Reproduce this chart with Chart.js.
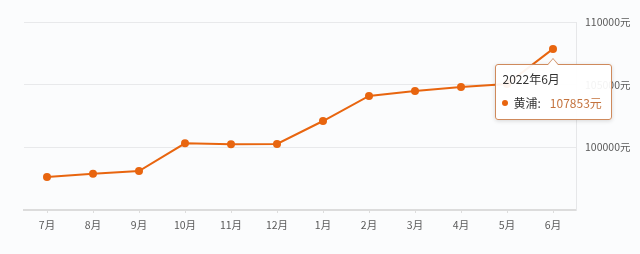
<!DOCTYPE html>
<html>
<head>
<meta charset="utf-8">
<script src="https://cdn.jsdelivr.net/npm/chart.js@4"></script>
<style>
  html, body { margin: 0; padding: 0; background: #fbfcfd; }
  #wrap { position: relative; width: 640px; height: 254px; }
  #tip {
    position: absolute; display: none; box-sizing: border-box;
    width: 117px; height: 56px; background: rgba(255,255,255,0.93);
    border: 1px solid #cf8a5c; border-radius: 3px;
    box-shadow: 0 1px 4px rgba(0,0,0,0.15);
    font-family: "Noto Sans CJK SC", "Noto Sans", sans-serif; font-size: 12px; color: #333;
  }
  #tip .caret {
    position: absolute; top: -7px; left: 50%; margin-left: -6px; width: 0; height: 0;
    border-left: 6px solid transparent; border-right: 6px solid transparent;
    border-bottom: 7px solid #cf8a5c;
  }
  #tip .caret:after {
    content: ""; position: absolute; top: 1px; left: -5px; width: 0; height: 0;
    border-left: 5px solid transparent; border-right: 5px solid transparent;
    border-bottom: 6px solid #fff;
  }
  #tip .t { position: absolute; left: 7px; top: 6px; line-height: 16px; }
  #tip .b { position: absolute; left: 6px; top: 30px; line-height: 16px; white-space: nowrap; }
  #tip .dot { display: inline-block; width: 6px; height: 6px; border-radius: 3px; background: #e8650f; margin-right: 6px; vertical-align: 2px; }
  #tip .v { color: #c4733e; margin-left: 9px; }
</style>
</head>
<body>
<div id="wrap">
  <canvas id="graphCanvas" width="640" height="254"></canvas>
  <div id="tip"><div class="caret"></div><div class="t"></div><div class="b"></div></div>
</div>
<script>
var months = ['7月', '8月', '9月', '10月', '11月', '12月', '1月', '2月', '3月', '4月', '5月', '6月'];
var fullMonths = ['2021年7月', '2021年8月', '2021年9月', '2021年10月', '2021年11月', '2021年12月',
                  '2022年1月', '2022年2月', '2022年3月', '2022年4月', '2022年5月', '2022年6月'];
var prices = [97630, 97900, 98110, 100320, 100240, 100270, 102100, 104100, 104500, 104810, 105050, 107853];
var seriesName = '黄浦';
var yTicks = [95000, 100000, 105000, 110000];

var lineColor = '#e8650f';
var labelFont = { family: '"Noto Sans CJK SC", "Noto Sans", sans-serif', size: 10.5 };

function showTip(context) {
  var model = context.tooltip;
  var tip = document.getElementById('tip');
  if (model.opacity === 0 || !model.dataPoints || !model.dataPoints.length) {
    tip.style.display = 'none';
    return;
  }
  var dp = model.dataPoints[0];
  tip.querySelector('.t').textContent = fullMonths[dp.dataIndex];
  tip.querySelector('.b').innerHTML = '<span class="dot"></span>' + seriesName + ':<span class="v">' + prices[dp.dataIndex] + '元</span>';
  tip.style.display = 'block';
  tip.style.left = (model.caretX - 117 / 2) + 'px';
  tip.style.top = (model.caretY + 15) + 'px';
}

var bgPlugin = {
  id: 'bg',
  beforeDraw: function(chart) {
    var c = chart.ctx;
    c.save();
    c.fillStyle = '#fbfcfd';
    c.fillRect(0, 0, chart.width, chart.height);
    c.restore();
  }
};

var canvas = document.getElementById('graphCanvas').getContext('2d');

var chart = new Chart(canvas, {
  type: 'line',
  data: {
    labels: months,
    datasets: [{
      label: seriesName,
      data: prices,
      borderColor: lineColor,
      backgroundColor: lineColor,
      borderWidth: 2,
      pointRadius: 4,
      pointHoverRadius: 4,
      pointBackgroundColor: lineColor,
      pointBorderWidth: 0,
      tension: 0
    }]
  },
  options: {
    responsive: false,
    animation: false,
    events: [],
    layout: { padding: { left: 24, top: 22, right: 0, bottom: 0 } },
    plugins: {
      legend: { display: false },
      tooltip: { enabled: false, external: showTip }
    },
    scales: {
      x: {
        offset: true,
        grid: { drawOnChartArea: false, drawTicks: true, tickLength: 3, color: '#dddddd' },
        border: { display: true, color: '#dcdcdc', width: 2 },
        ticks: { color: '#5a5a5a', font: labelFont, padding: 6, maxRotation: 0 },
        afterFit: function(scale) { scale.height = 44; }
      },
      y: {
        position: 'right',
        min: 95000,
        max: 110000,
        afterBuildTicks: function(scale) {
          scale.ticks = yTicks.map(function(v) { return { value: v }; });
        },
        grid: { color: '#e8e9eb', drawTicks: false, lineWidth: 1 },
        border: { display: true, color: '#e6e7e9', width: 1 },
        ticks: {
          color: '#5a5a5a', font: labelFont, padding: 9,
          callback: function(v) { return v === 95000 ? '' : v + '元'; }
        },
        afterFit: function(scale) { scale.width = 64; }
      }
    }
  },
  plugins: [bgPlugin]
});

var last = prices.length - 1;
chart.tooltip.setActiveElements([{ datasetIndex: 0, index: last }], { x: 0, y: 0 });
chart.update();
</script>
</body>
</html>
